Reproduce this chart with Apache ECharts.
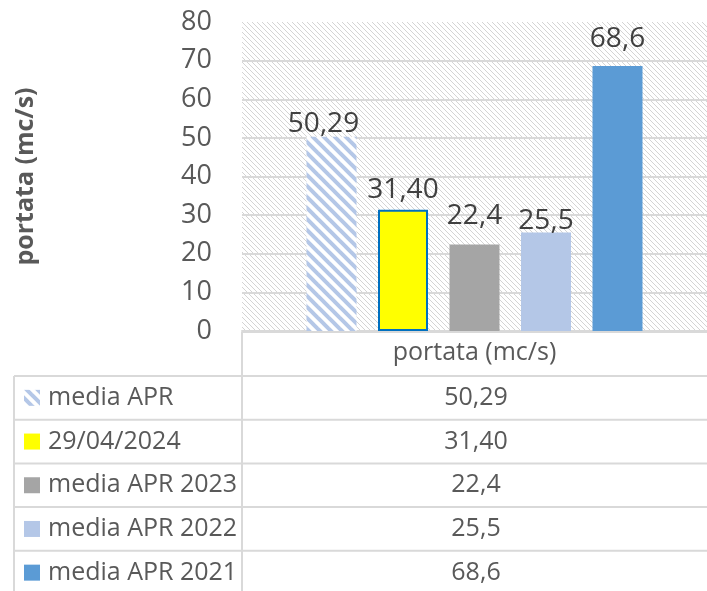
<!DOCTYPE html>
<html>
<head>
<meta charset="utf-8">
<script src="https://cdn.jsdelivr.net/npm/echarts@6/dist/echarts.min.js"></script>
<style>
  html, body { margin: 0; padding: 0; background: #fff; }
  #chart { width: 707px; height: 591px; }
</style>
</head>
<body>
<div id="chart"></div>
<script>
// dati del grafico
var categories = ['portata (mc/s)'];
var seriesNames = ['media APR', '29/04/2024', 'media APR 2023', 'media APR 2022', 'media APR 2021'];
var seriesValues = [50.29, 31.40, 22.4, 25.5, 68.6];
var valueLabels = ['50,29', '31,40', '22,4', '25,5', '68,6'];
var yTicks = [0, 10, 20, 30, 40, 50, 60, 70, 80];

var FONT = '"Open Sans", sans-serif';

// trama di sfondo (diagonale grigia fine)
function makeHatch() {
    var s = 5;
    var c = document.createElement('canvas');
    c.width = s; c.height = s;
    var ctx = c.getContext('2d');
    ctx.fillStyle = '#fff';
    ctx.fillRect(0, 0, s, s);
    ctx.fillStyle = '#d4d4d4';
    for (var i = 0; i < s; i++) {
        ctx.fillRect(i, i, 1, 1);
    }
    return c;
}
// righe azzurre della prima serie
function makeStripes() {
    var s = 11;
    var c = document.createElement('canvas');
    c.width = s; c.height = s;
    var ctx = c.getContext('2d');
    ctx.fillStyle = '#fff';
    ctx.fillRect(0, 0, s, s);
    ctx.strokeStyle = '#b4c7e7';
    ctx.lineWidth = 4;
    for (var k = -1; k <= 1; k++) {
        ctx.beginPath();
        ctx.moveTo(k * s - 2, -2);
        ctx.lineTo(k * s + s + 2, s + 2);
        ctx.stroke();
    }
    return c;
}

var hatch = {image: makeHatch(), repeat: 'repeat'};
var stripes = {image: makeStripes(), repeat: 'repeat'};

var colors = [stripes, '#ffff00', '#a5a5a5', '#b4c7e7', '#5b9bd5'];
var borders = [null, '#0070c0', null, null, null];
var labelDist = [-1, 6, 14, -3, 13];
var labelOffsetX = [-8, 0, 0, 0, 0];

var series = [];
for (var i = 0; i < seriesNames.length; i++) {
    series.push({
        name: seriesNames[i],
        type: 'bar',
        barWidth: 50,
        barGap: '43%',
        data: [seriesValues[i]],
        itemStyle: {
            color: colors[i],
            borderColor: borders[i] || 'transparent',
            borderWidth: borders[i] ? 2 : 0
        },
        label: {
            show: true,
            position: 'top',
            distance: labelDist[i],
            offset: [labelOffsetX[i], 0],
            fontFamily: FONT,
            fontSize: 28,
            color: '#404040',
            formatter: (function (t) { return function () { return t; }; })(valueLabels[i])
        }
    });
}

// tabella dati sotto il grafico
var rowTop = 376, rowH = 43.7, lineColor = '#d9d9d9';
var graphics = [];
var hLines = [332];
for (var r = 0; r <= seriesNames.length - 1; r++) hLines.push(rowTop + r * rowH);
for (var h = 0; h < hLines.length; h++) {
    graphics.push({
        type: 'line', silent: true,
        shape: {x1: h === 0 ? 242 : 14, y1: hLines[h], x2: 707, y2: hLines[h]},
        style: {stroke: lineColor, lineWidth: 2}
    });
}
graphics.push({type: 'line', silent: true, shape: {x1: 242, y1: 332, x2: 242, y2: 591}, style: {stroke: lineColor, lineWidth: 2}});
graphics.push({type: 'line', silent: true, shape: {x1: 14, y1: rowTop, x2: 14, y2: 591}, style: {stroke: lineColor, lineWidth: 2}});

for (var j = 0; j < seriesNames.length; j++) {
    var cy = rowTop + j * rowH + rowH / 2;
    graphics.push({
        type: 'rect', silent: true,
        shape: {x: 24, y: cy - 8, width: 16, height: 16},
        style: {fill: colors[j]}
    });
    graphics.push({
        type: 'text', silent: true,
        x: 48, y: cy,
        style: {text: seriesNames[j], font: '25px ' + FONT, fill: '#595959', verticalAlign: 'middle', align: 'left'}
    });
    graphics.push({
        type: 'text', silent: true,
        x: 476, y: cy,
        style: {text: valueLabels[j], font: '25px ' + FONT, fill: '#595959', verticalAlign: 'middle', align: 'center'}
    });
}

var chart = echarts.init(document.getElementById('chart'));
chart.setOption({
    animation: false,
    grid: {
        left: 242, right: -4, top: 22, bottom: 260,
        show: true, backgroundColor: hatch, borderWidth: 0
    },
    xAxis: {
        type: 'category',
        data: categories,
        axisLine: {lineStyle: {color: lineColor, width: 2}},
        axisTick: {show: false},
        axisLabel: {margin: 9, fontFamily: FONT, fontSize: 25, color: '#595959'}
    },
    yAxis: {
        type: 'value',
        min: yTicks[0], max: yTicks[yTicks.length - 1], interval: 10,
        name: 'portata (mc/s)',
        nameLocation: 'middle',
        nameGap: 204,
        nameTextStyle: {fontFamily: FONT, fontSize: 25, fontWeight: 'bold', color: '#595959'},
        axisLine: {show: false},
        axisTick: {show: false},
        axisLabel: {margin: 30, fontFamily: FONT, fontSize: 27, color: '#595959'},
        splitLine: {lineStyle: {color: ['#d9d9d9', '#d9d9d9', '#d9d9d9', '#d9d9d9', '#d9d9d9', '#d9d9d9', '#d9d9d9', '#d9d9d9', 'rgba(0,0,0,0)'], width: 2}}
    },
    series: series,
    graphic: graphics
});
</script>
</body>
</html>
